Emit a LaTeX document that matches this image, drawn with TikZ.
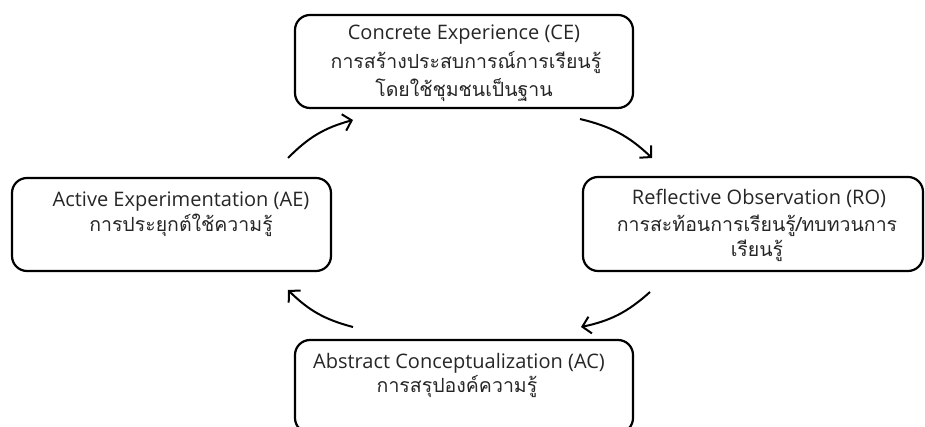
\documentclass[tikz,border=0pt]{standalone}
\usepackage{fontspec}
\setmainfont{Open Sans}
\newfontfamily\thai[Script=Thai]{Loma}
\usetikzlibrary{arrows.meta}
\begin{document}
\begin{tikzpicture}[x=1pt,y=1pt,
  box/.style={draw=black,line width=2.2pt,rounded corners=15pt,minimum width=#1,inner sep=0pt},
  box/.default=338pt,
  en/.style={anchor=base,inner sep=0pt,text=black!85,font=\fontsize{20}{24}\selectfont},
  th/.style={anchor=base,inner sep=0pt,text=black!85,font=\thai\fontsize{19.5}{24}\selectfont},
  cyc/.style={line width=2pt,-{Straight Barb[length=8pt,width=17pt,line width=2pt]},bend left=15}]
\useasboundingbox (0,0) rectangle (925,427);
% boxes
\node[box=338pt,minimum height=93pt] (ce) at (464,365.5) {};
\node[box=340pt,minimum height=94pt] (ro) at (753,203) {};
\node[box=319pt,minimum height=93pt] (ae) at (171.5,202.5) {};
\node[box=338pt,minimum height=93pt] (ac) at (464,40.5) {};
% texts
\node[en] (ce1) at (464,387) {Concrete Experience (CE)};
\node[th] (ce2) at (466,358) {การสร้างประสบการณ์การเรียนรู้};
\node[th] (ce3) at (464,330) {โดยใช้ชุมชนเป็นฐาน};
\node[en] (ro1) at (759,222) {Reflective Observation (RO)};
\node[th] (ro2) at (757,195) {การสะท้อนการเรียนรู้/ทบทวนการ};
\node[th] (ro3) at (757,170) {เรียนรู้};
\node[en] (ae1) at (181,220) {Active Experimentation (AE)};
\node[th] (ae2) at (181,195) {การประยุกต์ใช้ความรู้};
\node[en] (ac1) at (459,58) {Abstract Conceptualization (AC)};
\node[th] (ac2) at (457,34) {การสรุปองค์ความรู้};
% arrow ends
\coordinate (a1s) at (288,269); \coordinate (a1e) at (353,307);
\coordinate (a2s) at (580,308); \coordinate (a2e) at (652,269);
\coordinate (a3s) at (650,135); \coordinate (a3e) at (581,100);
\coordinate (a4s) at (353,100); \coordinate (a4e) at (288,137);
\draw[cyc] (a1s) to (a1e);
\draw[cyc] (a2s) to (a2e);
\draw[cyc] (a3s) to (a3e);
\draw[cyc] (a4s) to (a4e);
\end{tikzpicture}
\end{document}
